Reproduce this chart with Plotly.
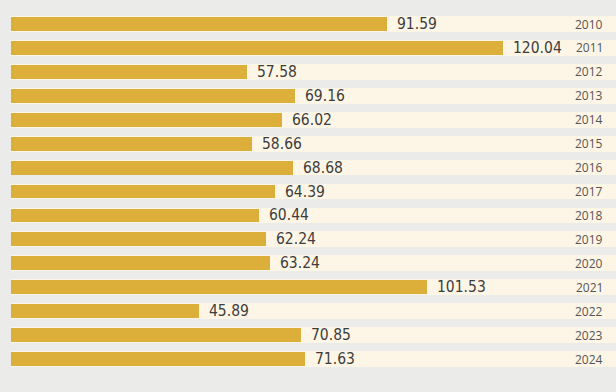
import plotly.graph_objects as go

years = ["2010", "2011", "2012", "2013", "2014", "2015", "2016", "2017",
         "2018", "2019", "2020", "2021", "2022", "2023", "2024"]
values = [91.59, 120.04, 57.58, 69.16, 66.02, 58.66, 68.68, 64.39,
          60.44, 62.24, 63.24, 101.53, 45.89, 70.85, 71.63]

n = len(years)
idx = list(range(n))
XMAX = 147.6
fig = go.Figure()
fig.add_trace(go.Bar(y=idx, x=[XMAX] * n, orientation="h", width=0.66,
                     marker=dict(color="#fdf6e6", line=dict(width=0)),
                     hoverinfo="skip", showlegend=False))
fig.add_trace(go.Bar(y=idx, x=values, orientation="h", width=0.58,
                     marker=dict(color="#dcaf3a", line=dict(width=0)),
                     showlegend=False))

for i, (yr, v) in enumerate(zip(years, values)):
    fig.add_annotation(x=v, y=i, text=f"{v:.2f}", xanchor="left", yanchor="middle",
                       xshift=8, showarrow=False,
                       font=dict(family="DejaVu Sans Condensed", size=15.5, color="#3d3d3d"))
    fig.add_annotation(x=1, xref="paper", y=i, text=yr, xanchor="right", yanchor="middle",
                       xshift=-11, showarrow=False,
                       font=dict(family="Open Sans", size=12, color="#555555"))

px_per = 4.1
fig.update_layout(
    width=616, height=392,
    margin=dict(l=0, r=0, t=0, b=0),
    paper_bgcolor="#ebebe9", plot_bgcolor="#ebebe9",
    barmode="overlay", bargap=0,
    xaxis=dict(range=[-11 / px_per, 605 / px_per], visible=False, fixedrange=True),
    yaxis=dict(range=[(392 - 24) / 23.93, -24 / 23.93], visible=False, fixedrange=True),
)
fig.write_html("out.html", config={"displayModeBar": False},
               post_script="document.body.style.margin='0';document.body.style.overflow='hidden';")
